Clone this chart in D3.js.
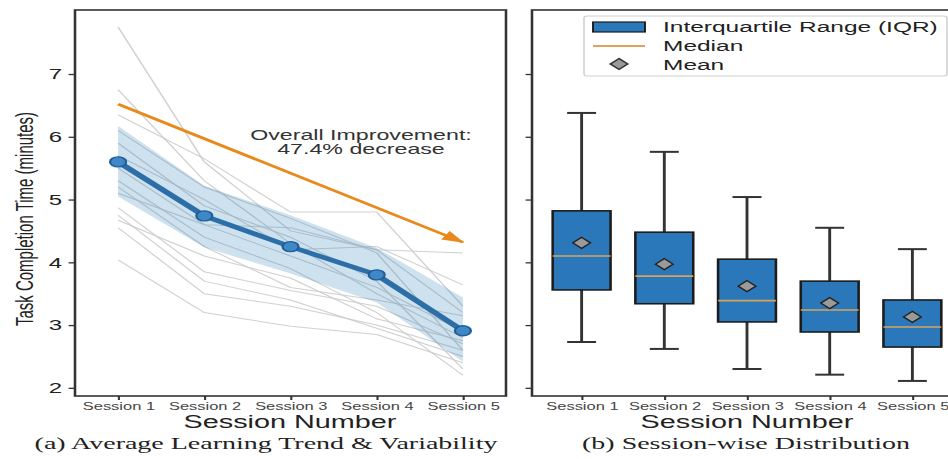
<!DOCTYPE html>
<html>
<head>
<meta charset="utf-8">
<script src="https://cdn.jsdelivr.net/npm/d3@7"></script>
<style>
  body { margin: 0; background: #fff; }
  svg { display: block; }
</style>
</head>
<body>
<div id="chart"></div>
<script>
// ***** Data *****
var sessions = ["Session 1", "Session 2", "Session 3", "Session 4", "Session 5"];
var yTicks = [2, 3, 4, 5, 6, 7];

// panel (a): average trend and +/- band
var meanTime = [5.60, 4.74, 4.25, 3.80, 2.91];
var bandLow  = [5.05, 4.24, 3.82, 3.36, 2.42];
var bandHigh = [6.17, 5.22, 4.75, 4.23, 3.44];

// panel (a): individual participants
var participants = [
  [7.75, 5.60, 4.50, 4.20, 3.20],
  [6.75, 5.30, 4.30, 3.50, 2.80],
  [6.35, 5.65, 4.80, 4.80, 3.30],
  [6.10, 5.20, 4.70, 4.15, 2.60],
  [5.90, 4.90, 4.40, 3.70, 2.30],
  [5.70, 5.00, 4.20, 4.25, 3.64],
  [5.50, 4.60, 4.10, 3.60, 2.90],
  [5.30, 4.40, 3.90, 3.20, 2.20],
  [5.10, 4.60, 4.55, 4.20, 4.15],
  [4.87, 3.85, 3.55, 3.30, 2.70],
  [4.75, 3.70, 3.40, 2.95, 2.50],
  [4.67, 4.10, 3.75, 3.10, 2.75],
  [4.55, 3.50, 3.30, 3.00, 2.60],
  [4.04, 3.20, 2.98, 2.85, 2.40],
  [5.20, 4.25, 3.60, 3.40, 3.15]
];

// annotation arrow (start at session 1, end at session 5)
var arrowFrom = [0, 6.52];
var arrowTo = [4, 4.32];
var improvementText = ["Overall Improvement:", "47.4% decrease"];

// panel (b): box plot statistics
var boxLow    = [2.73, 2.62, 2.30, 2.21, 2.11];
var boxQ1     = [3.56, 3.34, 3.05, 2.89, 2.65];
var boxMedian = [4.10, 3.78, 3.39, 3.24, 2.97];
var boxQ3     = [4.82, 4.48, 4.05, 3.70, 3.40];
var boxHigh   = [6.38, 5.76, 5.04, 4.55, 4.21];
var boxMean   = [4.31, 3.97, 3.62, 3.35, 3.13];

var legendLabels = ["Interquartile Range (IQR)", "Median", "Mean"];

// ***** Setup *****
var svgWidth = 948;
var svgHeight = 459;
var SX = 1.6; // the picture is stretched horizontally
function px(v) { return v / SX; }

var sansFont = "'Liberation Sans', Arial, sans-serif";
var serifFont = "'Liberation Serif', 'Times New Roman', serif";

var svg = d3.select("#chart").append("svg")
    .attr("width", svgWidth)
    .attr("height", svgHeight);

var root = svg.append("g").attr("transform", `scale(${SX},1)`);

var defs = svg.append("defs");
defs.append("marker")
    .attr("id", "arrowHead")
    .attr("markerUnits", "userSpaceOnUse")
    .attr("viewBox", "0 0 14 10")
    .attr("refX", 13)
    .attr("refY", 5)
    .attr("markerWidth", 14)
    .attr("markerHeight", 10)
    .attr("orient", "auto")
    .append("path")
    .attr("d", "M0,0 L14,5 L0,10 Z")
    .attr("fill", "#e8891c");

var yScale = d3.scaleLinear().domain([1.87, 8.02]).range([396, 10]);
var xLeft = d3.scaleLinear().domain([-0.5, 4.5]).range([px(75), px(506)]);
var xRight = d3.scaleLinear().domain([0.4, 5.6]).range([px(532), px(962)]);

function styleAxis(g, size, color) {
    g.select(".domain").remove();
    g.selectAll(".tick line").attr("stroke", "#333").attr("stroke-width", 1.3);
    g.selectAll(".tick text")
        .attr("font-family", sansFont)
        .attr("font-size", size)
        .attr("fill", color);
}

// ***** Panel (a) *****
var panelA = root.append("g");

var line = d3.line()
    .x((d, i) => xLeft(i))
    .y(d => yScale(d));

panelA.selectAll(".participant")
    .data(participants)
    .enter()
    .append("path")
    .attr("d", line)
    .attr("fill", "none")
    .attr("stroke", "#c9c9c9")
    .attr("stroke-width", 1)
    .attr("opacity", 0.85);

var band = d3.area()
    .x((d, i) => xLeft(i))
    .y0(d => yScale(d[0]))
    .y1(d => yScale(d[1]));

panelA.append("path")
    .datum(bandLow.map((v, i) => [v, bandHigh[i]]))
    .attr("d", band)
    .attr("fill", "#1f77b4")
    .attr("opacity", 0.22);

panelA.append("path")
    .datum(meanTime)
    .attr("d", line)
    .attr("fill", "none")
    .attr("stroke", "#2c6ea8")
    .attr("stroke-width", 4.5);

panelA.selectAll(".meanDot")
    .data(meanTime)
    .enter()
    .append("circle")
    .attr("cx", (d, i) => xLeft(i))
    .attr("cy", d => yScale(d))
    .attr("r", 5)
    .attr("fill", "#3f87c6")
    .attr("stroke", "#1f5e96")
    .attr("stroke-width", 1.4);

// arrow
panelA.append("line")
    .attr("x1", xLeft(arrowFrom[0]))
    .attr("y1", yScale(arrowFrom[1]))
    .attr("x2", xLeft(arrowTo[0]))
    .attr("y2", yScale(arrowTo[1]))
    .attr("stroke", "#e8891c")
    .attr("stroke-width", 2.6)
    .attr("marker-end", "url(#arrowHead)");

// annotation, one text per line
panelA.selectAll(".note")
    .data(improvementText)
    .enter()
    .append("text")
    .attr("x", px(361))
    .attr("y", (d, i) => 140 + i * 14.5)
    .attr("text-anchor", "middle")
    .attr("font-family", sansFont)
    .attr("font-size", 14.5)
    .attr("fill", "#333")
    .text(d => d);

// frame
panelA.append("rect")
    .attr("x", px(75))
    .attr("y", 10)
    .attr("width", px(506) - px(75))
    .attr("height", 386)
    .attr("fill", "none")
    .attr("stroke", "#333")
    .attr("stroke-width", 1.6);

panelA.append("g")
    .attr("transform", `translate(${px(75)},0)`)
    .call(d3.axisLeft(yScale).tickValues(yTicks).tickFormat(d3.format("d")).tickSize(4).tickPadding(4))
    .call(g => styleAxis(g, 15, "#222"));

panelA.append("g")
    .attr("transform", "translate(0,396)")
    .call(d3.axisBottom(xLeft).tickValues([0, 1, 2, 3, 4]).tickFormat(i => sessions[i]).tickSize(4).tickPadding(3))
    .call(g => styleAxis(g, 10.3, "#444"));

panelA.append("text")
    .attr("transform", `translate(${px(33)},219) rotate(-90)`)
    .attr("text-anchor", "middle")
    .attr("font-family", sansFont)
    .attr("font-size", 15)
    .attr("fill", "#222")
    .text("Task Completion Time (minutes)");

panelA.append("text")
    .attr("x", px(290))
    .attr("y", 428)
    .attr("text-anchor", "middle")
    .attr("font-family", sansFont)
    .attr("font-size", 18)
    .attr("fill", "#222")
    .text("Session Number");

panelA.append("text")
    .attr("x", px(266))
    .attr("y", 449)
    .attr("text-anchor", "middle")
    .attr("font-family", serifFont)
    .attr("font-size", 17.5)
    .attr("fill", "#222")
    .text("(a) Average Learning Trend & Variability");

// ***** Panel (b) *****
var panelB = root.append("g");
var boxHalf = 0.35;
var capHalf = 0.175;

var boxes = panelB.selectAll(".box")
    .data(boxQ1)
    .enter()
    .append("g");

boxes.append("line")
    .attr("x1", (d, i) => xRight(i + 1))
    .attr("x2", (d, i) => xRight(i + 1))
    .attr("y1", (d, i) => yScale(boxLow[i]))
    .attr("y2", (d, i) => yScale(boxHigh[i]))
    .attr("stroke", "#333")
    .attr("stroke-width", 1.8);

boxes.append("line")
    .attr("x1", (d, i) => xRight(i + 1 - capHalf))
    .attr("x2", (d, i) => xRight(i + 1 + capHalf))
    .attr("y1", (d, i) => yScale(boxLow[i]))
    .attr("y2", (d, i) => yScale(boxLow[i]))
    .attr("stroke", "#333")
    .attr("stroke-width", 2);

boxes.append("line")
    .attr("x1", (d, i) => xRight(i + 1 - capHalf))
    .attr("x2", (d, i) => xRight(i + 1 + capHalf))
    .attr("y1", (d, i) => yScale(boxHigh[i]))
    .attr("y2", (d, i) => yScale(boxHigh[i]))
    .attr("stroke", "#333")
    .attr("stroke-width", 2);

boxes.append("rect")
    .attr("x", (d, i) => xRight(i + 1 - boxHalf))
    .attr("width", (d, i) => xRight(i + 1 + boxHalf) - xRight(i + 1 - boxHalf))
    .attr("y", (d, i) => yScale(boxQ3[i]))
    .attr("height", (d, i) => yScale(boxQ1[i]) - yScale(boxQ3[i]))
    .attr("fill", "#2a78b9")
    .attr("stroke", "#1c1c1c")
    .attr("stroke-width", 1.6);

boxes.append("line")
    .attr("x1", (d, i) => xRight(i + 1 - boxHalf))
    .attr("x2", (d, i) => xRight(i + 1 + boxHalf))
    .attr("y1", (d, i) => yScale(boxMedian[i]))
    .attr("y2", (d, i) => yScale(boxMedian[i]))
    .attr("stroke", "#d9a35e")
    .attr("stroke-width", 1.6);

function diamond(cx, cy, s) {
    return `M${cx},${cy - s} L${cx + s},${cy} L${cx},${cy + s} L${cx - s},${cy} Z`;
}

boxes.append("path")
    .attr("d", (d, i) => diamond(xRight(i + 1), yScale(boxMean[i]), 5.5))
    .attr("fill", "#9a9a9a")
    .attr("stroke", "#222")
    .attr("stroke-width", 1.2);

panelB.append("rect")
    .attr("x", px(532))
    .attr("y", 10)
    .attr("width", px(962) - px(532))
    .attr("height", 386)
    .attr("fill", "none")
    .attr("stroke", "#333")
    .attr("stroke-width", 1.6);

panelB.append("g")
    .attr("transform", `translate(${px(532)},0)`)
    .call(d3.axisLeft(yScale).tickValues(yTicks).tickSize(4).tickFormat(""))
    .call(g => styleAxis(g, 15, "#222"));

panelB.append("g")
    .attr("transform", "translate(0,396)")
    .call(d3.axisBottom(xRight).tickValues([1, 2, 3, 4, 5]).tickFormat(i => sessions[i - 1]).tickSize(4).tickPadding(3))
    .call(g => styleAxis(g, 10.3, "#444"));

// legend
var legend = panelB.append("g");
legend.append("rect")
    .attr("x", px(584))
    .attr("y", 16)
    .attr("width", px(947) - px(584))
    .attr("height", 60)
    .attr("rx", 2)
    .attr("fill", "#fff")
    .attr("fill-opacity", 0.85)
    .attr("stroke", "#d0d0d0")
    .attr("stroke-width", 1);

legend.append("rect")
    .attr("x", px(593))
    .attr("y", 22)
    .attr("width", px(645) - px(593))
    .attr("height", 10)
    .attr("fill", "#2a78b9")
    .attr("stroke", "#1c1c1c")
    .attr("stroke-width", 1.2);

legend.append("line")
    .attr("x1", px(593))
    .attr("x2", px(645))
    .attr("y1", 46)
    .attr("y2", 46)
    .attr("stroke", "#e0a35a")
    .attr("stroke-width", 1.8);

legend.append("path")
    .attr("d", diamond(px(619), 64, 5.5))
    .attr("fill", "#9a9a9a")
    .attr("stroke", "#333")
    .attr("stroke-width", 1.2);

legend.selectAll(".legendText")
    .data(legendLabels)
    .enter()
    .append("text")
    .attr("x", px(663))
    .attr("y", (d, i) => 27 + i * 18.5)
    .attr("dy", "0.36em")
    .attr("font-family", sansFont)
    .attr("font-size", 15.3)
    .attr("fill", "#222")
    .text(d => d);

panelB.append("text")
    .attr("x", px(747))
    .attr("y", 428)
    .attr("text-anchor", "middle")
    .attr("font-family", sansFont)
    .attr("font-size", 18)
    .attr("fill", "#222")
    .text("Session Number");

panelB.append("text")
    .attr("x", px(746))
    .attr("y", 449)
    .attr("text-anchor", "middle")
    .attr("font-family", serifFont)
    .attr("font-size", 17.5)
    .attr("fill", "#222")
    .text("(b) Session-wise Distribution");
</script>
</body>
</html>
